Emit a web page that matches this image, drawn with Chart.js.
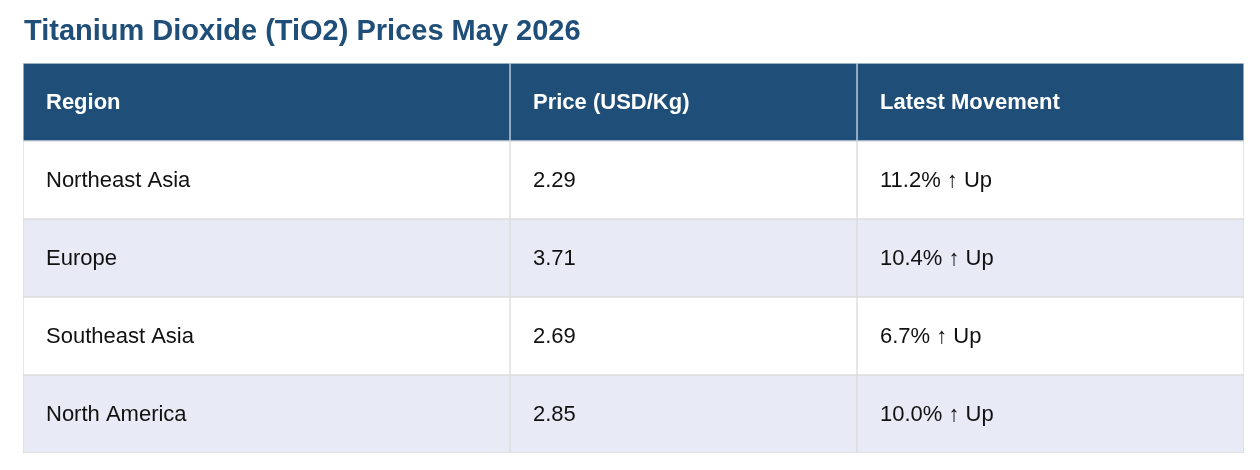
<!DOCTYPE html>
<html>
<head>
<meta charset="utf-8">
<script src="https://cdn.jsdelivr.net/npm/chart.js@4"></script>
<style>
  html, body { margin: 0; padding: 0; background: #fff; font-family: "Liberation Sans", Arial, sans-serif; }
  #wrap { width: 1260px; height: 470px; position: relative; }
  #pre { position: absolute; left: -9999px; font-family: "Liberation Sans"; }
</style>
</head>
<body>
<span id="pre">a<b>b</b></span>
<div id="wrap"><canvas id="tbl"></canvas></div>
<script>
const title = "Titanium Dioxide (TiO2) Prices May 2026";
const headers = ["Region", "Price (USD/Kg)", "Latest Movement"];
const regions = ["Northeast Asia", "Europe", "Southeast Asia", "North America"];
const prices = ["2.29", "3.71", "2.69", "2.85"];
const movements = ["11.2% \u2191 Up", "10.4% \u2191 Up", "6.7% \u2191 Up", "10.0% \u2191 Up"];

// column edges in table units (px width of each column)
const colEdges = [0, 487, 834, 1221];
const rowLabels = ["header"].concat(regions);
const rowColors = rowLabels.map((r, i) => i === 0 ? "#1f4e79" : (i % 2 ? "#ffffff" : "#e8eaf6"));
const cells = [headers].concat(regions.map((r, i) => [r, prices[i], movements[i]]));
const FONT = "'Liberation Sans', Arial, sans-serif";

const datasets = headers.map((h, c) => ({
    label: h,
    data: rowLabels.map(() => [colEdges[c], colEdges[c + 1]]),
    backgroundColor: rowColors,
    borderColor: rowLabels.map((r, i) => i === 0 ? "#c9d3df" : "#dcdcdc"),
    borderWidth: 1,
    borderSkipped: false,
    barPercentage: 1,
    categoryPercentage: 1,
    grouped: false
}));

const textPlugin = {
    id: "cellText",
    afterDatasetsDraw(chart) {
        const ctx = chart.ctx;
        const x = chart.scales.x, y = chart.scales.y;
        ctx.save();
        ctx.fillStyle = "#1f4e79";
        ctx.font = "bold 29px " + FONT;
        ctx.textBaseline = "alphabetic";
        ctx.fillText(title, 24, 40);
        ctx.textBaseline = "middle";
        cells.forEach((row, r) => {
            const py = y.getPixelForValue(r);
            row.forEach((txt, c) => {
                const px = x.getPixelForValue(colEdges[c]) + 23;
                ctx.fillStyle = r === 0 ? "#ffffff" : "#111111";
                ctx.font = (r === 0 ? "bold " : "") + "22px " + FONT;
                ctx.fillText(txt, px, py + 1);
            });
        });
        ctx.restore();
    }
};

function draw() {
    new Chart(document.getElementById("tbl"), {
        type: "bar",
        data: { labels: rowLabels, datasets: datasets },
        options: {
            indexAxis: "y",
            responsive: true,
            maintainAspectRatio: false,
            animation: false,
            layout: { padding: { left: 23, right: 16, top: 63, bottom: 17 } },
            plugins: { legend: { display: false }, tooltip: { enabled: false }, title: { display: false } },
            scales: {
                x: { type: "linear", min: colEdges[0], max: colEdges[colEdges.length - 1], display: false },
                y: { display: false }
            }
        },
        plugins: [textPlugin]
    });
}

Promise.all([
    document.fonts.load("22px 'Liberation Sans'"),
    document.fonts.load("bold 29px 'Liberation Sans'")
]).then(draw, draw);
</script>
</body>
</html>
